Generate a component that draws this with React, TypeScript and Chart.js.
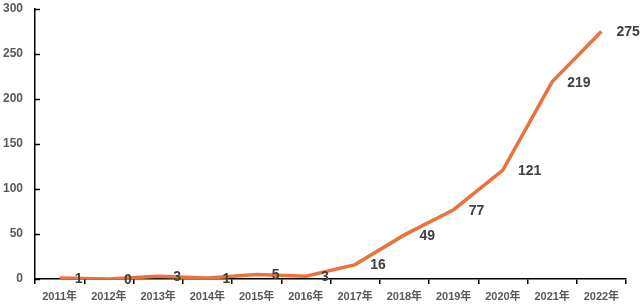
import React, { useEffect, useRef } from "react";
import { Chart, registerables } from "chart.js";

Chart.register(...registerables);

const categories = ["2011年", "2012年", "2013年", "2014年", "2015年", "2016年", "2017年", "2018年", "2019年", "2020年", "2021年", "2022年"];
const values = [1, 0, 3, 1, 5, 3, 16, 49, 77, 121, 219, 275];
const yTicks = [0, 50, 100, 150, 200, 250, 300];

const FONT = "'Liberation Sans', 'Noto Sans CJK SC', sans-serif";

const helperPlugin = {
  id: "helper",
  afterDatasetsDraw(chart: any) {
    const ctx = chart.ctx;
    const y = chart.scales.y;
    const area = chart.chartArea;
    ctx.save();
    // inside ticks on y axis
    ctx.strokeStyle = "#000";
    ctx.lineWidth = 1.5;
    yTicks.forEach((v) => {
      const py = Math.round(y.getPixelForValue(v)) + 0.5;
      ctx.beginPath();
      ctx.moveTo(area.left, py);
      ctx.lineTo(area.left + 5, py);
      ctx.stroke();
    });
    // data labels
    const meta = chart.getDatasetMeta(0);
    ctx.fillStyle = "#404040";
    ctx.font = "bold 14px " + FONT;
    ctx.textAlign = "left";
    ctx.textBaseline = "middle";
    meta.data.forEach((pt: any, i: number) => {
      ctx.fillText(String(values[i]), pt.x + 15, pt.y + 1);
    });
    ctx.restore();
  },
};

export default function App() {
  const ref = useRef<HTMLCanvasElement>(null);
  useEffect(() => {
    if (!ref.current) return;
    const chart = new Chart(ref.current, {
      type: "line",
      data: {
        labels: categories,
        datasets: [
          {
            data: values,
            borderColor: "#E8733C",
            borderWidth: 3.5,
            pointRadius: 0,
            tension: 0,
            fill: false,
          },
        ],
      },
      options: {
        animation: false,
        responsive: false,
        maintainAspectRatio: false,
        layout: { padding: { top: 9, right: 14, left: 0, bottom: 0 } },
        plugins: { legend: { display: false }, tooltip: { enabled: false } },
        scales: {
          x: {
            type: "category",
            offset: true,
            grid: { display: true, drawOnChartArea: false, offset: true, tickLength: 5, color: "#000", lineWidth: 1.5 },
            border: { display: true, color: "#000", width: 1.5 },
            ticks: { color: "#595959", font: { family: FONT, size: 11, weight: "bold" }, padding: 6, maxRotation: 0, autoSkip: false },
            afterFit: (s: any) => { s.height = 26; s.paddingLeft = 0; s.paddingRight = 0; },
          },
          y: {
            min: 0,
            max: 300,
            grid: { display: false, drawTicks: false },
            border: { display: true, color: "#000", width: 1.5 },
            ticks: { stepSize: 50, color: "#595959", font: { family: FONT, size: 12, weight: "bold" }, padding: 12 },
            afterFit: (s: any) => { s.width = 35; s.paddingTop = 0; s.paddingBottom = 0; },
          },
        },
      },
      plugins: [helperPlugin],
    });
    return () => chart.destroy();
  }, []);
  return (
    <div style={{ position: "absolute", left: 0, top: 0, width: 640, height: 305, background: "#fff" }}>
      <canvas ref={ref} width={640} height={305} />
    </div>
  );
}
